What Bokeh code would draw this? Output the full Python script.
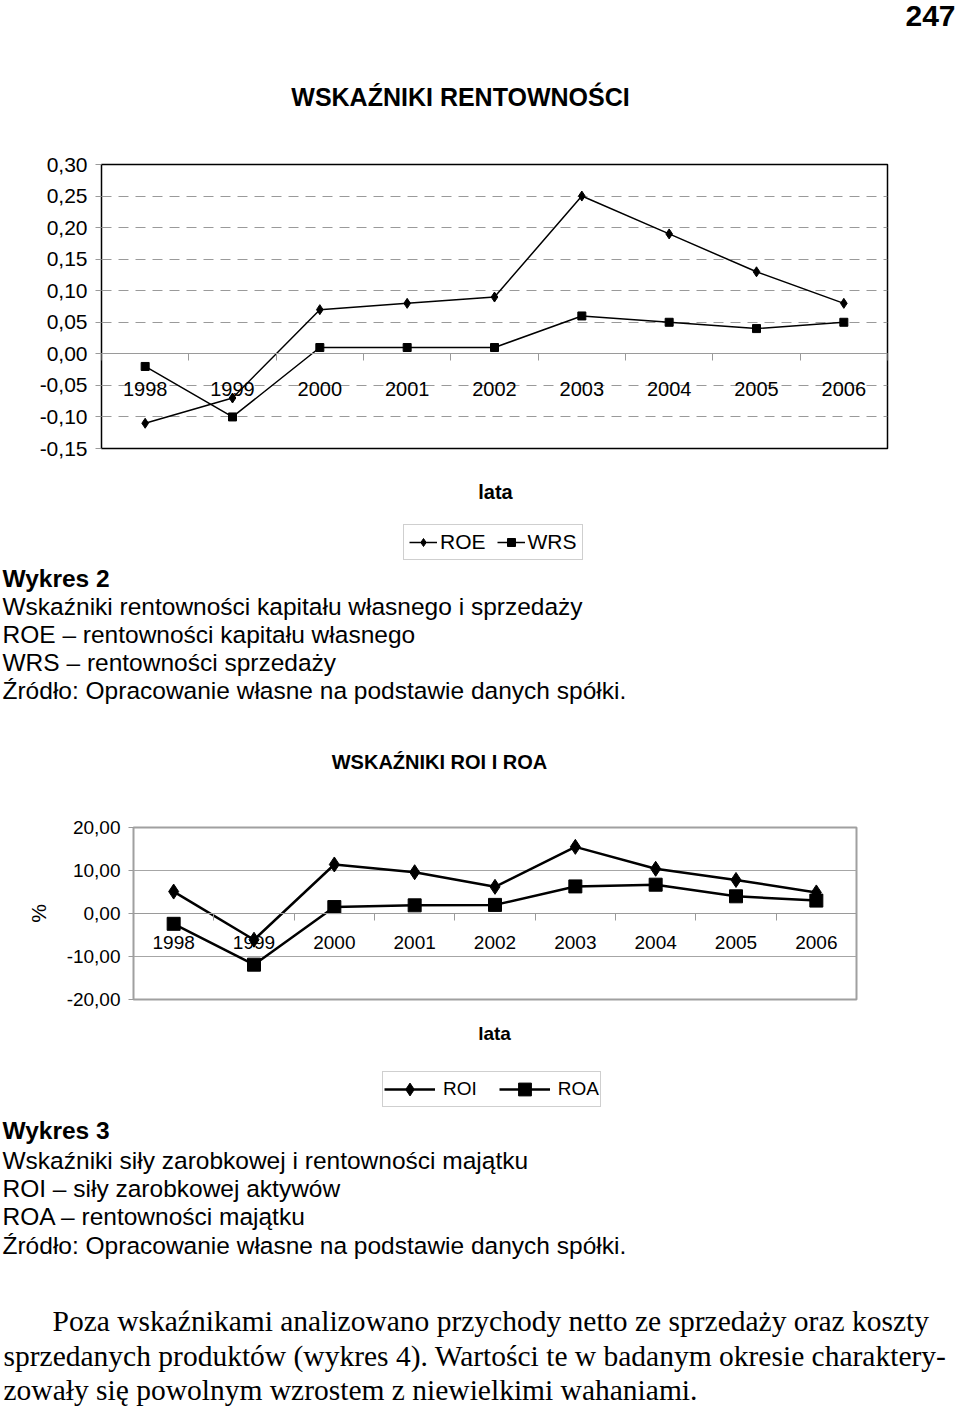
from bokeh.plotting import figure
from bokeh.models import (Range1d, FixedTicker, LinearAxis, Legend, LegendItem,
                          ColumnDataSource, Grid)
from bokeh.layouts import column
from bokeh.embed import file_html
from bokeh.resources import INLINE
from bokeh.core.properties import value

# ---------------- data ----------------
years = [1998, 1999, 2000, 2001, 2002, 2003, 2004, 2005, 2006]
roe = [-0.11, -0.07, 0.07, 0.08, 0.09, 0.25, 0.19, 0.13, 0.08]
wrs = [-0.02, -0.10, 0.01, 0.01, 0.01, 0.06, 0.05, 0.04, 0.05]
roi = [5.1, -6.1, 11.4, 9.6, 6.2, 15.5, 10.4, 7.8, 4.9]
roa = [-2.4, -11.9, 1.5, 1.9, 2.0, 6.3, 6.7, 4.0, 3.0]
y1_ticks = [-0.15, -0.10, -0.05, 0.0, 0.05, 0.10, 0.15, 0.20, 0.25, 0.30]
y1_labels = ["-0,15", "-0,10", "-0,05", "0,00", "0,05", "0,10", "0,15", "0,20", "0,25", "0,30"]
y2_ticks = [-20, -10, 0, 10, 20]
y2_labels = ["-20,00", "-10,00", "0,00", "10,00", "20,00"]

caption1 = ["Wskaźniki rentowności kapitału własnego i sprzedaży",
            "ROE – rentowności kapitału własnego",
            "WRS – rentowności sprzedaży",
            "Źródło: Opracowanie własne na podstawie danych spółki."]
caption2 = ["Wskaźniki siły zarobkowej i rentowności majątku",
            "ROI – siły zarobkowej aktywów",
            "ROA – rentowności majątku",
            "Źródło: Opracowanie własne na podstawie danych spółki."]
paragraph = ["Poza wskaźnikami analizowano przychody netto ze sprzedaży oraz koszty",
             "sprzedanych produktów (wykres 4). Wartości te w badanym okresie charaktery-",
             "zowały się powolnym wzrostem z niewielkimi wahaniami."]

W = 960
SANS = "Liberation Sans"
SERIF = "Liberation Serif"
GRAY = "#9a9a9a"

bounds = [y - 0.5 for y in years] + [years[-1] + 0.5]


def text_fig(h):
    f = figure(width=W, height=h, x_range=Range1d(0, W), y_range=Range1d(h, 0),
               output_backend="svg", toolbar_location=None, x_axis_type=None,
               y_axis_type=None, min_border_left=0, min_border_right=0,
               min_border_top=0, min_border_bottom=0, frame_align=False)
    f.outline_line_color = None
    f.background_fill_color = "white"
    f.border_fill_color = "white"
    return f


def txt(f, xs, ys, texts, size, font=SANS, style="normal", align="left"):
    f.text(x=xs, y=ys, text=texts, text_font=value(font), text_font_style=style,
           text_font_size=size, text_align=align, text_baseline="middle",
           text_color="black")


def chart(height, yr, yticks, ylabels, mb, frame_color, frame_w, grid_dash, grid_color,
          ylab_size, xlab_size, xlab_standoff, tick_out):
    p = figure(width=W, height=height, x_range=Range1d(years[0] - 0.5, years[-1] + 0.5),
               y_range=yr, output_backend="svg", toolbar_location=None,
               x_axis_type=None, y_axis_type=None,
               min_border_left=mb[0], min_border_right=mb[1], min_border_top=mb[2],
               min_border_bottom=mb[3], frame_align=False)
    p.outline_line_color = frame_color
    p.outline_line_width = frame_w
    p.background_fill_color = "white"
    p.border_fill_color = "white"
    p.add_layout(Grid(dimension=1, ticker=FixedTicker(ticks=yticks), grid_line_color=grid_color,
                      grid_line_dash=grid_dash, grid_line_width=1))
    ya = LinearAxis(ticker=FixedTicker(ticks=yticks),
                    major_label_overrides=dict(zip(yticks, ylabels)),
                    axis_line_color=None, major_tick_out=tick_out, major_tick_in=0,
                    major_tick_line_color=GRAY, minor_tick_line_color=None,
                    major_label_text_font=SANS, major_label_text_font_size=ylab_size,
                    major_label_standoff=8, major_label_text_color="black")
    p.add_layout(ya, "left")
    xt = LinearAxis(ticker=FixedTicker(ticks=bounds), fixed_location=0,
                    axis_line_color=GRAY, axis_line_width=1, major_tick_out=7, major_tick_in=0,
                    major_tick_line_color=GRAY, minor_tick_line_color=None,
                    major_label_text_color=None)
    xl = LinearAxis(ticker=FixedTicker(ticks=years), fixed_location=0,
                    axis_line_color=None, major_tick_out=0, major_tick_in=0,
                    major_tick_line_color=None, minor_tick_line_color=None,
                    major_label_text_font=SANS, major_label_text_font_size=xlab_size,
                    major_label_standoff=xlab_standoff, major_label_text_color="black")
    p.add_layout(xt, "below")
    p.add_layout(xl, "below")
    return p, ya


def legend_proxies(f, line_kw, dsize, ssize):
    # legend swatches only: one point kept outside the visible text-figure range
    src = ColumnDataSource(dict(x=[-500], y=[-500]))
    a_l = f.line("x", "y", source=src, **line_kw)
    a_m = f.scatter("x", "y", source=src, marker="diamond", size=dsize,
                    fill_color="black", line_color="black")
    b_l = f.line("x", "y", source=src, **line_kw)
    b_m = f.scatter("x", "y", source=src, marker="square", size=ssize,
                    fill_color="black", line_color="black")
    return [a_l, a_m], [b_l, b_m]


# ---------------- header (0-150) ----------------
hdr = text_fig(150)
txt(hdr, [955], [15], ["247"], "30px", style="bold", align="right")
txt(hdr, [460], [96], ["WSKAŹNIKI RENTOWNOŚCI"], "25px", style="bold", align="center")

# ---------------- chart 1 (150-465) ----------------
D1, S1 = 10, 8
p1, ya1 = chart(315, Range1d(-0.15, 0.30), y1_ticks, y1_labels, (101, 73, 14, 17),
                "black", 1.5, "10 7", GRAY, "21px", "20px", 28, 6)
src1 = ColumnDataSource(dict(x=years, roe=roe, wrs=wrs))
line1 = dict(line_color="black", line_width=1.5)
p1.line("x", "roe", source=src1, **line1)
p1.scatter("x", "roe", source=src1, marker="diamond", size=D1,
           fill_color="black", line_color="black")
p1.line("x", "wrs", source=src1, **line1)
p1.scatter("x", "wrs", source=src1, marker="square", size=S1,
           fill_color="black", line_color="black")

# ---------------- caption 1 + legend 1 + title 2 (465-800) ----------------
c1 = text_fig(335)
txt(c1, [495], [26], ["lata"], "20px", style="bold", align="center")
r_roe, r_wrs = legend_proxies(c1, line1, D1, S1)
leg1 = Legend(items=[LegendItem(label="ROE", renderers=r_roe),
                     LegendItem(label="WRS", renderers=r_wrs)],
              orientation="horizontal", location=(403, 240), border_line_color="#a0a0a0",
              border_line_width=1, label_text_font=SANS, label_text_font_size="21px",
              label_text_color="black", glyph_width=28, glyph_height=20, label_standoff=3,
              spacing=11, padding=5, margin=0, background_fill_color="white")
c1.add_layout(leg1)
txt(c1, [2], [113], ["Wykres 2"], "24.5px", style="bold")
txt(c1, [2, 2, 2, 2], [141, 169, 197, 225], caption1, "24.5px")
txt(c1, [439], [296], ["WSKAŹNIKI ROI I ROA"], "20px", style="bold", align="center")

# ---------------- chart 2 (800-1015) ----------------
D2, S2 = 15, 13
p2, ya2 = chart(215, Range1d(-20, 20), y2_ticks, y2_labels, (133, 104, 27, 16),
                "#a0a0a0", 2, "solid", "#a6a6a6", "19px", "19px", 22, 5)
ya2.axis_label = "%"
ya2.axis_label_text_font = SANS
ya2.axis_label_text_font_size = "21px"
ya2.axis_label_text_font_style = "normal"
ya2.axis_label_text_color = "black"
ya2.axis_label_standoff = 14
src2 = ColumnDataSource(dict(x=years, roi=roi, roa=roa))
line2 = dict(line_color="black", line_width=2.5)
p2.line("x", "roi", source=src2, **line2)
p2.scatter("x", "roi", source=src2, marker="diamond", size=D2,
           fill_color="black", line_color="black")
p2.line("x", "roa", source=src2, **line2)
p2.scatter("x", "roa", source=src2, marker="square", size=S2,
           fill_color="black", line_color="black")

# ---------------- caption 2 + legend 2 + paragraph (1015-1406) ----------------
c2 = text_fig(391)
txt(c2, [494], [18], ["lata"], "19px", style="bold", align="center")
r_roi, r_roa = legend_proxies(c2, line2, D2, S2)
leg2 = Legend(items=[LegendItem(label="ROI", renderers=r_roi),
                     LegendItem(label="ROA", renderers=r_roa)],
              orientation="horizontal", location=(382, 299), border_line_color="#a0a0a0",
              border_line_width=1, label_text_font=SANS, label_text_font_size="19px",
              label_text_color="black", glyph_width=51, glyph_height=32, label_standoff=8,
              spacing=22, padding=1, margin=0, background_fill_color="white")
c2.add_layout(leg2)
txt(c2, [2], [115], ["Wykres 3"], "24.5px", style="bold")
txt(c2, [2, 2, 2, 2], [145, 173, 201, 230], caption2, "24.5px")
txt(c2, [52, 3, 3], [305, 340, 374], paragraph, "29.5px", font=SERIF)

page = column(hdr, p1, c1, p2, c2, spacing=0)
open("out.html", "w").write(file_html(page, INLINE))
